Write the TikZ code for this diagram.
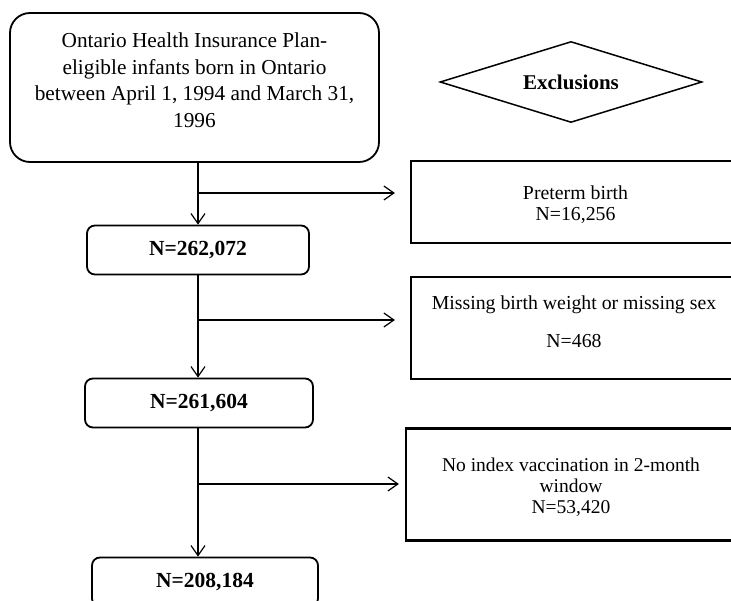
\documentclass[tikz,border=0pt]{standalone}
\usepackage{fontspec}
\setmainfont{Liberation Serif}
\usetikzlibrary{arrows.meta,positioning,shapes.geometric}

\begin{document}
\begin{tikzpicture}[x=1pt, y=-1pt, font=\fontsize{19.8}{21}\selectfont,
  rbox/.style={draw, line width=1.8pt, rounded corners=8pt, minimum height=49pt,
    font=\fontsize{21.5}{22}\selectfont\bfseries},
  xbox/.style={draw, line width=2.2pt, align=center, inner sep=0pt},
  arr/.style={-{Straight Barb[length=10pt, width=14pt]}, line width=1.2pt}]
\useasboundingbox (0,0) rectangle (731,601);
\clip (0,0) rectangle (731,601);
% main column
\node[draw, line width=1.8pt, rounded corners=20pt, align=center, minimum width=369pt, minimum height=149pt,
  text depth=15pt, font=\fontsize{21.3}{26.5}\selectfont] (cohort) at (194.5,87.5)
  {Ontario Health Insurance Plan-\\eligible infants born in Ontario\\between April 1, 1994 and March 31,\\1996};
\node[rbox, minimum width=222pt] (n1) at (198,250) {N=262,072};
\node[rbox, minimum width=228pt] (n2) at (199,403) {N=261,604};
\node[rbox, minimum width=226pt] (n3) at (205,582) {N=208,184};
% exclusions
\node[draw, diamond, aspect=3.2, line width=1.5pt, minimum width=262pt, minimum height=81pt, inner sep=0pt,
  font=\fontsize{21}{22}\selectfont\bfseries] (excl) at (571,82) {Exclusions};
\node[xbox, minimum width=329pt, minimum height=82pt, text height=41pt] (exA) at (575.5,202)
  {Preterm birth\\N=16,256};
\node[xbox, minimum width=326pt, minimum height=102pt, text depth=13pt] (exB) at (574,328)
  {Missing birth weight or missing sex\\[17pt]N=468};
\node[xbox, minimum width=330pt, minimum height=112pt, text height=61pt,
  font=\fontsize{19.5}{21}\selectfont] (exC) at (571,484.5)
  {No index vaccination in 2-month\\window\\N=53,420};
% branch points
\coordinate (b1) at (198,193);
\coordinate (b2) at (198,320);
\coordinate (b3) at (198,484);
\draw[arr] (cohort.south -| n1.north) -- (n1.north);
\draw[arr] (n1.south) -- (n1.south |- n2.north);
\draw[arr] (n2.south -| n1.south) -- (n1.south |- n3.north);
\draw[arr, shorten >=15pt] (b1) -- (b1 -| exA.west);
\draw[arr, shorten >=15pt] (b2) -- (b2 -| exB.west);
\draw[arr, shorten >=6pt] (b3) -- (b3 -| exC.west);
\end{tikzpicture}
\end{document}
